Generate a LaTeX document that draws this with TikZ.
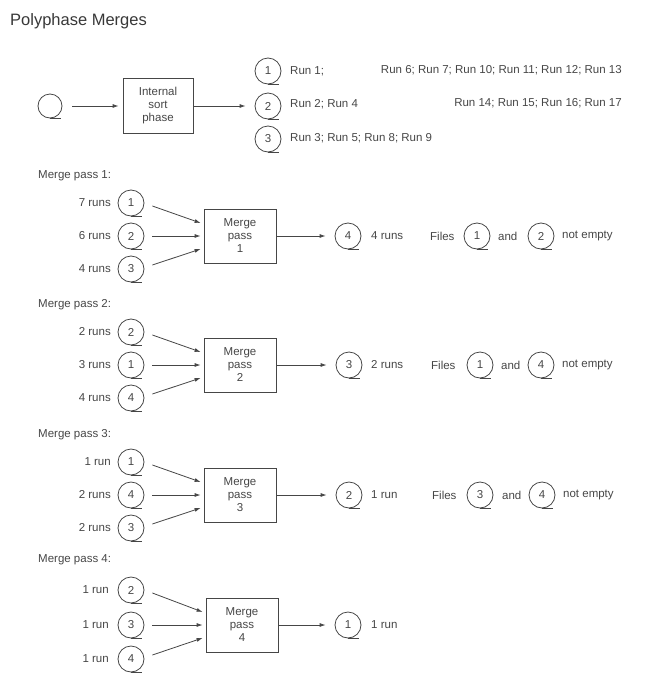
\documentclass[tikz,border=0pt]{standalone}
\usepackage{fontspec}
\setmainfont{Liberation Sans}
\usetikzlibrary{arrows.meta}
\definecolor{ink}{RGB}{70,70,70}
\tikzset{
  tapec/.style={circle,draw=ink,line width=0.8pt,minimum size=26pt,inner sep=0pt,text=ink,font=\fontsize{11.5}{13}\selectfont},
  tapetail/.style={draw=ink,line width=0.8pt},
  procbox/.style={draw=ink,line width=0.8pt,minimum width=72pt,minimum height=54pt,align=center,text=ink,font=\fontsize{11.5}{13}\selectfont,inner sep=1pt},
  lbl/.style={text=ink,font=\fontsize{11.5}{13}\selectfont,inner sep=0pt},
  arr/.style={draw=ink,line width=0.8pt,-{Latex[length=6pt,width=4pt]}},
}
\newcommand\tape[4]{\node[tapec] (#1) at (#2,#3) {#4};\draw[tapetail] (#1.south) -- ++(11,0);}
\newcommand\mpass[9]{%
  % #1 id, #2 cy, #3 pass no, #4-#6 input numbers, #7-#9 input labels
  \node[lbl,anchor=west] (h#1) at (38,#2-60) {Merge pass #3:};
  \tape{a#1}{131}{#2-33}{#4}
  \tape{m#1}{131}{#2}{#5}
  \tape{c#1}{131}{#2+33}{#6}
  \node[lbl,anchor=east] (la#1) at (111,#2-33) {#7};
  \node[lbl,anchor=east] (lm#1) at (111,#2) {#8};
  \node[lbl,anchor=east] (lc#1) at (111,#2+33) {#9};
  \node[procbox] (b#1) at (240,#2) {Merge\\pass\\#3};
  \draw[arr] ([xshift=8pt,yshift=-3pt]a#1.east) -- ([xshift=-3pt,yshift=13pt]b#1.west);
  \draw[arr] ([xshift=8pt]m#1.east) -- ([xshift=-3pt]b#1.west);
  \draw[arr] ([xshift=8pt,yshift=4pt]c#1.east) -- ([xshift=-3pt,yshift=-13pt]b#1.west);
}
\begin{document}
\begin{tikzpicture}[x=1pt,y=-1pt]
\useasboundingbox (0,0) rectangle (652,673);
\node[text=ink!80!black,font=\fontsize{16.5}{19}\selectfont,anchor=base west,inner sep=0pt] (title) at (10,25) {Polyphase Merges};
% top row
\node[circle,draw=ink,line width=0.8pt,minimum size=24pt,inner sep=0pt] (src) at (50,106) {};
\draw[tapetail] (src.south) -- ++(11,0);
\node[procbox,minimum width=70pt,minimum height=55pt] (isp) at (158,106) {Internal\\sort\\phase};
\draw[arr] ([xshift=10pt]src.east) -- ([xshift=-4pt]isp.west);
\tape{t1}{268}{71}{1}
\tape{t2}{268}{106}{2}
\tape{t3}{268}{139}{3}
\draw[arr] (isp.east) -- ([xshift=-9pt]t2.west);
\node[lbl,anchor=west] (r1) at (290,71) {Run 1;};
\node[lbl,anchor=east] (r1b) at (622,70) {Run 6; Run 7; Run 10; Run 11; Run 12; Run 13};
\node[lbl,anchor=west] (r2) at (290,104) {Run 2; Run 4};
\node[lbl,anchor=east] (r2b) at (622,103) {Run 14; Run 15; Run 16; Run 17};
\node[lbl,anchor=west] (r3) at (290,138) {Run 3; Run 5; Run 8; Run 9};
% pass 1
\mpass{1}{236}{1}{1}{2}{3}{7 runs}{6 runs}{4 runs}
\tape{o1}{348}{236}{4}
\draw[arr] (b1.east) -- ([xshift=-9pt]o1.west);
\node[lbl,anchor=west] (o1l) at (371,236) {4 runs};
\node[lbl,anchor=west] (f1) at (430,236) {Files};
\tape{f1a}{477}{236}{1}
\node[lbl,anchor=west] (f1n) at (498,236) {and};
\tape{f1b}{541}{236}{2}
\node[lbl,anchor=west] (f1e) at (562,236) {not empty};
% pass 2
\mpass{2}{365}{2}{2}{1}{4}{2 runs}{3 runs}{4 runs}
\tape{o2}{349}{365}{3}
\draw[arr] (b2.east) -- ([xshift=-9pt]o2.west);
\node[lbl,anchor=west] (o2l) at (371,365) {2 runs};
\node[lbl,anchor=west] (f2) at (431,365) {Files};
\tape{f2a}{480}{365}{1}
\node[lbl,anchor=west] (f2n) at (501,365) {and};
\tape{f2b}{541}{365}{4}
\node[lbl,anchor=west] (f2e) at (562,365) {not empty};
% pass 3
\mpass{3}{495}{3}{1}{4}{3}{1 run}{2 runs}{2 runs}
\tape{o3}{349}{495}{2}
\draw[arr] (b3.east) -- ([xshift=-9pt]o3.west);
\node[lbl,anchor=west] (o3l) at (371,495) {1 run};
\node[lbl,anchor=west] (f3) at (432,495) {Files};
\tape{f3a}{480}{495}{3}
\node[lbl,anchor=west] (f3n) at (502,495) {and};
\tape{f3b}{542}{495}{4}
\node[lbl,anchor=west] (f3e) at (563,495) {not empty};
% pass 4
\node[lbl,anchor=west] (h4) at (38,560) {Merge pass 4:};
\tape{a4}{131}{590}{2}
\tape{m4}{131}{625}{3}
\tape{c4}{131}{659}{4}
\node[lbl,anchor=east] (la4) at (109,590) {1 run};
\node[lbl,anchor=east] (lm4) at (109,625) {1 run};
\node[lbl,anchor=east] (lc4) at (109,659) {1 run};
\node[procbox] (b4) at (242,625) {Merge\\pass\\4};
\draw[arr] ([xshift=8pt,yshift=-3pt]a4.east) -- ([xshift=-3pt,yshift=13pt]b4.west);
\draw[arr] ([xshift=8pt]m4.east) -- ([xshift=-3pt]b4.west);
\draw[arr] ([xshift=8pt,yshift=4pt]c4.east) -- ([xshift=-3pt,yshift=-13pt]b4.west);
\tape{o4}{348}{625}{1}
\draw[arr] (b4.east) -- ([xshift=-9pt]o4.west);
\node[lbl,anchor=west] (o4l) at (371,625) {1 run};
\end{tikzpicture}
\end{document}
